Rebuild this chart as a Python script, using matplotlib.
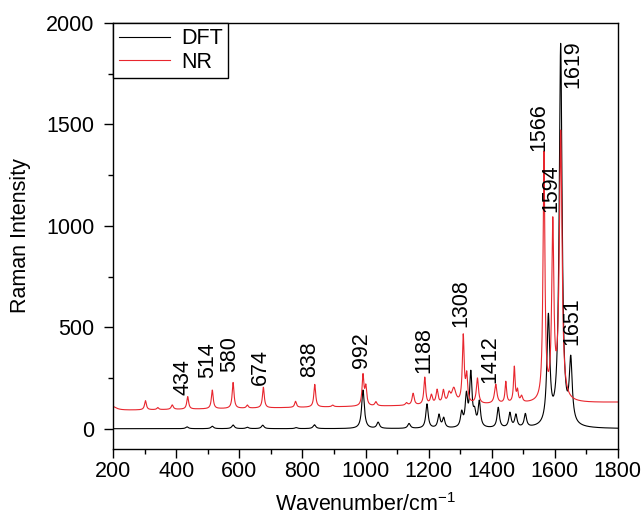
import numpy as np
import matplotlib
matplotlib.use('Agg')
import matplotlib.pyplot as plt
from matplotlib.ticker import MultipleLocator

plt.rcParams['font.family'] = ['Liberation Sans', 'DejaVu Sans']
plt.rcParams['mathtext.default'] = 'regular'

# DFT spectrum: peak centres (cm-1), heights, half widths
dft_pos = [434, 514, 580, 625, 674, 780, 838, 992, 1040, 1138, 1195, 1233, 1248,
           1305, 1320, 1334, 1346, 1361, 1421, 1458, 1477, 1507, 1580, 1619, 1651]
dft_amp = [9, 12, 18, 7, 17, 5, 19, 190, 30, 24, 120, 65, 48,
           70, 150, 260, 60, 125, 100, 72, 62, 65, 530, 1880, 305]
dft_hw = [5, 5, 5, 5, 5, 5, 5, 5, 5, 5, 4.5, 4.5, 4.5,
          4.5, 4.5, 4.5, 4.5, 4.5, 4.5, 4.5, 4.5, 4.5, 5.5, 5.5, 5.5]

# NR (experimental) spectrum: baseline plus peaks
nr_base = [90, 0.025]          # offset at 200 cm-1, slope
nr_pos = [197, 302, 341, 387, 436, 514, 580, 625, 676, 778, 839, 896, 992, 1001,
          1033, 1130, 1151, 1188, 1209, 1227, 1247, 1265, 1280, 1310, 1321, 1355,
          1413, 1445, 1472, 1482, 1495, 1566, 1594, 1619]
nr_amp = [20, 45, 10, 22, 62, 92, 128, 15, 102, 30, 112, 8, 150, 90,
          20, 12, 58, 135, 45, 70, 65, 45, 75, 330, 130, 125,
          95, 105, 175, 55, 30, 1215, 850, 1320]
nr_hw = [15, 3.5, 3.5, 4, 3.5, 3.5, 3.5, 3.5, 3.5, 3.5, 3.5, 4, 3.5, 3.5,
         4, 4, 4, 3.5, 4, 4, 4, 5, 8, 3.5, 3.5, 4,
         4.5, 3, 3, 3, 4, 3.5, 4, 5]

# annotated bands
labels = [434, 514, 580, 674, 838, 992, 1188, 1308, 1412, 1566, 1594, 1619, 1651]
label_x = [420, 499, 568, 668, 824, 987, 1185, 1301, 1393, 1551, 1587, 1657, 1655]
label_y = [167, 249, 282, 216, 257, 298, 273, 502, 224, 1371, 1068, 1682, 413]


def lorentz(x, pos, amp, hw):
    y = np.zeros_like(x)
    for p, a, w in zip(pos, amp, hw):
        y += a * w**2 / ((x - p)**2 + w**2)
    return y


x = np.linspace(200, 1800, 6401)
dft = lorentz(x, dft_pos, dft_amp, dft_hw)
nr = nr_base[0] + nr_base[1] * (x - 200) + lorentz(x, nr_pos, nr_amp, nr_hw)

fs = 15.5
fig = plt.figure(figsize=(6.43, 5.18), dpi=100)
ax = fig.add_axes([0.1762, 0.1332, 0.7845, 0.8224])

ax.plot(x, dft, color='black', lw=0.8, label='DFT')
ax.plot(x, nr, color='#e8262e', lw=0.8, label='NR')

for lab, tx, ty in zip(labels, label_x, label_y):
    ax.text(tx, ty, str(lab), rotation=90, ha='center', va='bottom', fontsize=fs)

ax.set_xlim(200, 1800)
ax.set_ylim(-100, 2000)
ax.set_xticks(np.arange(200, 1801, 200))
ax.set_yticks(np.arange(0, 2001, 500))
ax.xaxis.set_minor_locator(MultipleLocator(100))
ax.yaxis.set_minor_locator(MultipleLocator(250))
ax.tick_params(which='major', direction='out', length=6.5, width=1, labelsize=fs,
               top=False, right=False)
ax.tick_params(which='minor', direction='out', length=3.6, width=1,
               top=False, right=False)
ax.tick_params(axis='x', which='major', pad=2)
ax.tick_params(axis='y', which='major', pad=7)
for s in ax.spines.values():
    s.set_linewidth(1)

ax.set_xlabel('Wavenumber/cm$^{-1}$', fontsize=fs)
ax.set_ylabel('Raman Intensity', fontsize=fs)
ax.xaxis.set_label_coords(0.5, -0.103)
ax.yaxis.set_label_coords(-0.163, 0.5)

leg = ax.legend(loc='upper left', fontsize=fs, fancybox=False, framealpha=1,
                edgecolor='black', borderaxespad=0.0, handlelength=2.4,
                handletextpad=0.5, borderpad=0.25, labelspacing=0.1)
leg.get_frame().set_linewidth(1)

plt.savefig('out.png', dpi=100)
